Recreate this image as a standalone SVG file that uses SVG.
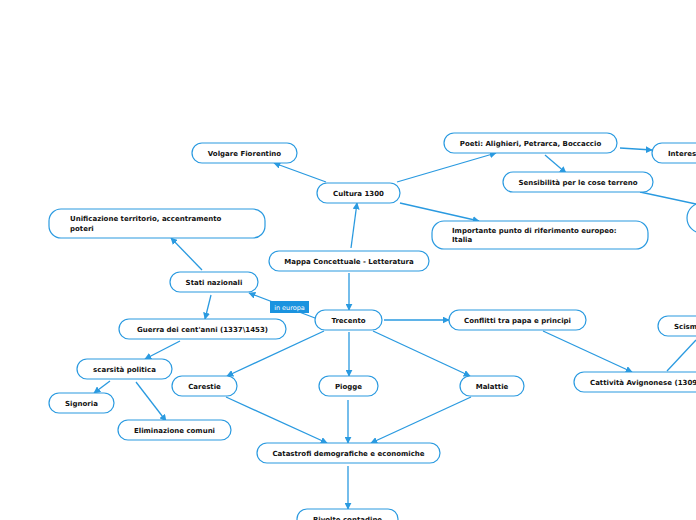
<svg xmlns="http://www.w3.org/2000/svg" width="696" height="520" viewBox="0 0 696 520">
<defs>
<marker id="ah" viewBox="0 0 10 10" refX="9" refY="5" markerWidth="7" markerHeight="7" markerUnits="userSpaceOnUse" orient="auto">
<path d="M0,0 L10,5 L0,10 z" fill="#2a9ae0"/>
</marker>
<style>
.n{fill:#fff;stroke:#2a9ae0;stroke-width:1.2}
.t{font-family:"DejaVu Sans",Verdana,sans-serif;font-size:7px;font-weight:bold;fill:#111;text-anchor:middle}
.tl{font-family:"DejaVu Sans",Verdana,sans-serif;font-size:7px;font-weight:bold;fill:#111}
.e{stroke:#2a9ae0;stroke-width:1.3;fill:none}
.a{marker-end:url(#ah)}
</style>
</defs>
<rect width="696" height="520" fill="#fff"/>
<g id="connectors">
<line class="e a" x1="351" y1="248" x2="357" y2="203"/>
<line class="e a" x1="349" y1="273" x2="349" y2="310"/>
<line class="e a" x1="326" y1="182" x2="274" y2="163"/>
<line class="e a" x1="397" y1="182" x2="496" y2="153"/>
<line class="e a" x1="400" y1="203" x2="479" y2="221"/>
<line class="e a" x1="620" y1="148" x2="652" y2="150"/>
<line class="e a" x1="545" y1="155" x2="566" y2="173"/>
<line class="e" x1="640" y1="192" x2="696" y2="204"/>
<line class="e a" x1="315" y1="318" x2="249" y2="293"/>
<line class="e a" x1="202" y1="270" x2="171" y2="238"/>
<line class="e a" x1="211" y1="295" x2="205" y2="319"/>
<line class="e a" x1="180" y1="341" x2="145" y2="359"/>
<line class="e a" x1="110" y1="381" x2="94" y2="393"/>
<line class="e a" x1="136" y1="382" x2="166" y2="421"/>
<line class="e a" x1="324" y1="331" x2="227" y2="376"/>
<line class="e a" x1="349" y1="332" x2="349" y2="376"/>
<line class="e a" x1="373" y1="331" x2="470" y2="376"/>
<line class="e a" x1="384" y1="320" x2="449" y2="320"/>
<line class="e a" x1="543" y1="331" x2="632" y2="372"/>
<line class="e" x1="696" y1="340" x2="667" y2="371"/>
<line class="e a" x1="226" y1="397" x2="327" y2="443"/>
<line class="e a" x1="348" y1="400" x2="348" y2="443"/>
<line class="e a" x1="471" y1="397" x2="371" y2="443"/>
<line class="e a" x1="348" y1="466" x2="348" y2="509"/>
<g id="label-in-europa">
<rect x="270" y="301" width="39" height="12" fill="#1b93df"/>
<text x="289.5" y="309.5" font-family="DejaVu Sans,Verdana,sans-serif" font-size="6.5" fill="#fff" text-anchor="middle">in europa</text>
</g>
</g>
<g id="volgare"><rect class="n" x="192" y="143" width="105" height="20" rx="10"/><text class="t" x="244.5" y="155.5">Volgare Fiorentino</text></g>
<g id="cultura"><rect class="n" x="317" y="183" width="83" height="20" rx="10"/><text class="t" x="358.5" y="195.5">Cultura 1300</text></g>
<g id="poeti"><rect class="n" x="444" y="133" width="173" height="20" rx="10"/><text class="t" x="530.5" y="145.5">Poeti: Alighieri, Petrarca, Boccaccio</text></g>
<g id="interesse"><rect class="n" x="652" y="143" width="60" height="20" rx="10"/><text class="tl" x="668" y="155.5">Interesse</text></g>
<g id="sensibilita"><rect class="n" x="503" y="172" width="150" height="20" rx="10"/><text class="t" x="578" y="184.5">Sensibilità per le cose terreno</text></g>
<g id="cerchio"><rect class="n" x="687" y="203" width="40" height="30" rx="15"/></g>
<g id="importante"><rect class="n" x="432" y="221" width="216" height="28" rx="12"/><text class="tl" x="452" y="233">Importante punto di riferimento europeo:</text><text class="tl" x="452" y="242">Italia</text></g>
<g id="unificazione"><rect class="n" x="49" y="209" width="216" height="29" rx="12"/><text class="tl" x="70" y="221">Unificazione territorio, accentramento</text><text class="tl" x="70" y="230.5">poteri</text></g>
<g id="mappa"><rect class="n" x="269" y="251" width="160" height="20" rx="10"/><text class="t" x="349" y="263.5">Mappa Concettuale - Letteratura</text></g>
<g id="stati"><rect class="n" x="170" y="272" width="88" height="20" rx="10"/><text class="t" x="214" y="284.5">Stati nazionali</text></g>
<g id="trecento"><rect class="n" x="315" y="310" width="67" height="20" rx="10"/><text class="t" x="348.5" y="322.5">Trecento</text></g>
<g id="conflitti"><rect class="n" x="449" y="310" width="137" height="20" rx="10"/><text class="t" x="517.5" y="322.5">Conflitti tra papa e principi</text></g>
<g id="scisma"><rect class="n" x="658" y="316" width="60" height="20" rx="10"/><text class="tl" x="674" y="328.5">Scisma</text></g>
<g id="guerra"><rect class="n" x="119" y="319" width="167" height="20" rx="10"/><text class="t" x="202.5" y="331.5">Guerra dei cent'anni (1337\1453)</text></g>
<g id="scarsita"><rect class="n" x="77" y="359" width="95" height="20" rx="10"/><text class="t" x="124.5" y="371.5">scarsità politica</text></g>
<g id="carestie"><rect class="n" x="172" y="376" width="65" height="20" rx="10"/><text class="t" x="204.5" y="388.5">Carestie</text></g>
<g id="piogge"><rect class="n" x="319" y="376" width="59" height="20" rx="10"/><text class="t" x="348.5" y="388.5">Piogge</text></g>
<g id="malattie"><rect class="n" x="460" y="376" width="64" height="20" rx="10"/><text class="t" x="492" y="388.5">Malattie</text></g>
<g id="cattivita"><rect class="n" x="574" y="372" width="150" height="20" rx="10"/><text class="tl" x="590" y="384.5">Cattività Avignonese (1309-1377)</text></g>
<g id="signoria"><rect class="n" x="49" y="393" width="65" height="20" rx="10"/><text class="t" x="81.5" y="405.5">Signoria</text></g>
<g id="eliminazione"><rect class="n" x="118" y="420" width="113" height="20" rx="10"/><text class="t" x="174.5" y="432.5">Eliminazione comuni</text></g>
<g id="catastrofi"><rect class="n" x="257" y="443" width="183" height="20" rx="10"/><text class="t" x="348.5" y="455.5">Catastrofi demografiche e economiche</text></g>
<g id="rivolte"><rect class="n" x="297" y="509" width="101" height="20" rx="10"/><text class="t" x="347.5" y="521.5">Rivolte contadine</text></g>
</svg>
